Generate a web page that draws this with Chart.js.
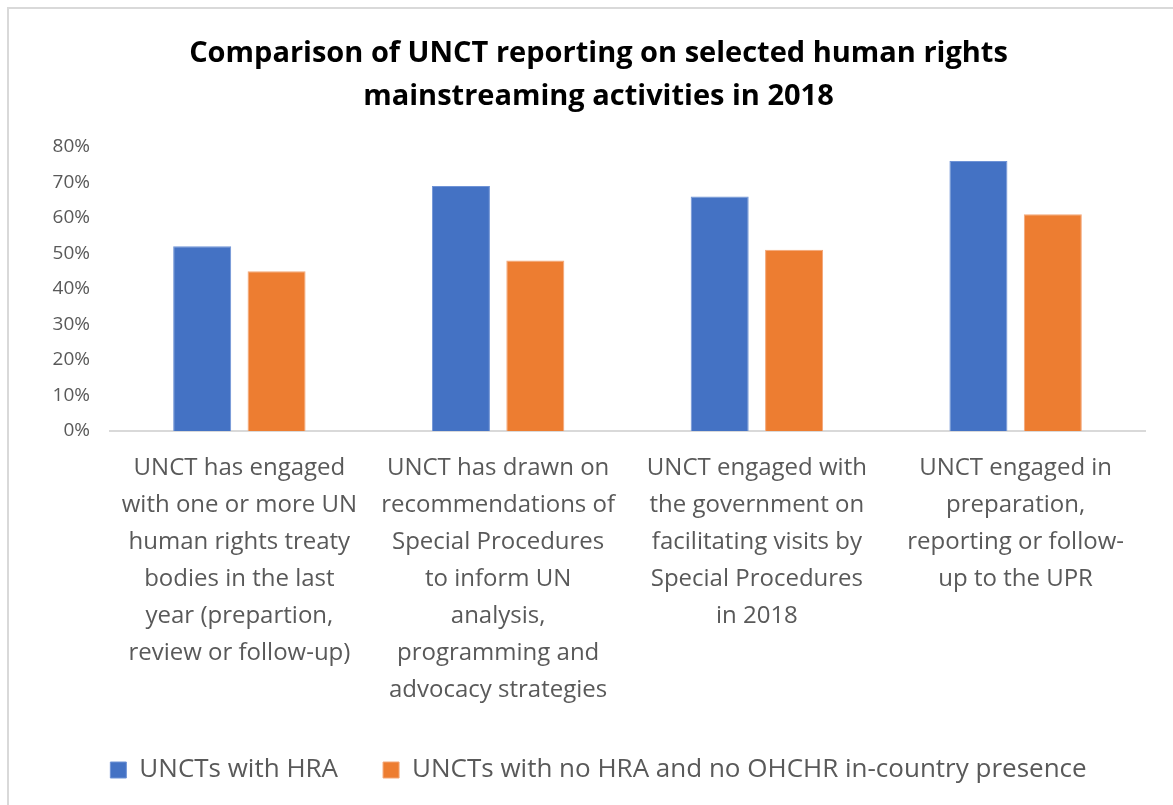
<!DOCTYPE html>
<html>
<head>
<meta charset="utf-8">
<script src="https://cdn.jsdelivr.net/npm/chart.js@4/dist/chart.umd.min.js"></script>
<style>
  html, body { margin: 0; padding: 0; background: #ffffff; }
  #frame { position: absolute; left: 7px; top: 7px; width: 1180px; height: 820px; border-left: 2px solid #d9d9d9; border-top: 2px solid #d9d9d9; box-sizing: border-box; }
  #wrap { position: absolute; left: 0; top: 0; width: 1173px; height: 805px; }
</style>
</head>
<body>
<div id="frame"></div>
<div id="wrap"><canvas id="c" width="1173" height="805"></canvas></div>
<script>
const titleLines = ["Comparison of UNCT reporting on selected human rights", "mainstreaming activities in 2018"];
const categories = [
  ["UNCT has engaged", "with one or more UN", "human rights treaty", "bodies in the last", "year (prepartion,", "review or follow-up)"],
  ["UNCT has drawn on", "recommendations of", "Special Procedures", "to inform UN", "analysis,", "programming and", "advocacy strategies"],
  ["UNCT engaged with", "the government on", "facilitating visits by", "Special Procedures", "in 2018"],
  ["UNCT engaged in", "preparation,", "reporting or follow-", "up to the UPR"]
];
const seriesNames = ["UNCTs with HRA", "UNCTs with no HRA and no OHCHR in-country presence"];
const withHRA = [0.52, 0.69, 0.66, 0.76];
const noHRA = [0.45, 0.48, 0.51, 0.61];
const yTicks = [0, 0.1, 0.2, 0.3, 0.4, 0.5, 0.6, 0.7, 0.8];

const FONT = "'Open Sans', 'Noto Sans', sans-serif";

new Chart(document.getElementById('c'), {
  type: 'bar',
  data: {
    labels: categories,
    datasets: [
      { label: seriesNames[0], data: withHRA, backgroundColor: '#4472C4', borderColor: '#6f93d6', borderWidth: 1 },
      { label: seriesNames[1], data: noHRA, backgroundColor: '#ED7D31', borderColor: '#f3a677', borderWidth: 1 }
    ]
  },
  options: {
    responsive: false,
    animation: false,
    layout: { padding: { left: 52, right: 28, top: 0, bottom: 12 } },
    datasets: { bar: { categoryPercentage: 0.575, barPercentage: 0.78 } },
    plugins: {
      title: {
        display: true,
        text: titleLines,
        color: '#000000',
        font: { family: FONT, size: 29, weight: 'bold', lineHeight: 1.48 },
        padding: { top: 32, bottom: 29 }
      },
      legend: {
        display: true,
        position: 'bottom',
        align: 'center',
        labels: {
          color: '#595959',
          font: { family: FONT, size: 26 },
          boxWidth: 16,
          boxHeight: 16,
          padding: 45,
          useBorderRadius: false
        }
      },
      tooltip: { enabled: false }
    },
    scales: {
      x: {
        grid: { display: false, drawTicks: false },
        border: { display: true, color: '#d9d9d9', width: 2 },
        ticks: {
          color: '#595959',
          font: { family: FONT, size: 24, lineHeight: 1.54 },
          maxRotation: 0,
          minRotation: 0,
          autoSkip: false,
          padding: 19
        },
        afterFit: (s) => { s.height = 281; }
      },
      y: {
        min: 0,
        max: 0.8,
        afterBuildTicks: (s) => { s.ticks = yTicks.map(v => ({ value: v })); },
        grid: { display: false, drawTicks: false },
        border: { display: false },
        ticks: {
          color: '#595959',
          font: { family: FONT, size: 19 },
          padding: 20,
          callback: (v) => Math.round(v * 100) + '%'
        },
        afterFit: (s) => { s.width = 58; }
      }
    }
  }
});
</script>
</body>
</html>
